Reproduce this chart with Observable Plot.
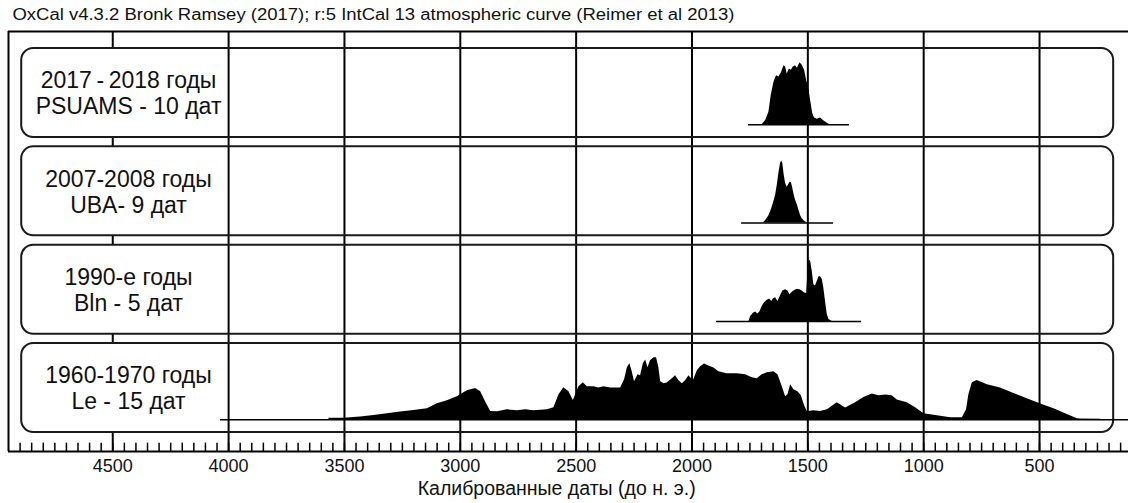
<!DOCTYPE html>
<html><head><meta charset="utf-8">
<script src="https://cdn.jsdelivr.net/npm/d3@7"></script>
<script src="https://cdn.jsdelivr.net/npm/@observablehq/plot@0.6"></script>
<style>body{margin:0;background:#fff}#chart svg{display:block}</style>
</head><body><div id="chart"></div>
<script>
const titleText = "OxCal v4.3.2 Bronk Ramsey (2017); r:5 IntCal 13 atmospheric curve (Reimer et al 2013)";
const axisTitle = "Калиброванные даты (до н. э.)";
const rowLabels = [
  "2017\u2009-\u20092018 годы\nPSUAMS - 10 дат",
  "2007-2008 годы\nUBA- 9 дат",
  "1990-е годы\nBln - 5 дат",
  "1960-1970 годы\nLe - 15 дат"
];
const tickYears = [4500, 4000, 3500, 3000, 2500, 2000, 1500, 1000, 500];
const minorTicks = d3.range(4900, 100, -50);
const baselineStart = [1756, 1786, 1894, 4035];
const baselineEnd = [1320, 1389, 1268, 116];

const psuamsYears = [1697,1682,1668,1658,1646,1635,1625,1614,1603,1596,1589,1580,1571,1563,1553,1545,1534,1524,1514,1505,1497,1488,1479,1471,1459,1445,1433,1419,1405];
const psuamsDensity = [0,.07,.2,.47,.69,.79,.77,.84,.95,.93,.82,.9,.88,.93,.95,.91,1,.96,.88,.71,.61,.39,.18,.11,.09,.11,.07,.03,0];

const ubaYears = [1692,1682,1668,1658,1649,1639,1632,1625,1618,1613,1608,1603,1596,1589,1584,1577,1571,1566,1560,1553,1545,1539,1531,1524,1514,1502];
const ubaDensity = [0,.04,.12,.21,.31,.45,.61,.8,.96,1,.96,.8,.64,.58,.61,.66,.65,.58,.47,.37,.29,.21,.12,.07,.03,0];

const blnYears = [1754,1747,1735,1725,1716,1707,1697,1687,1675,1665,1656,1649,1639,1629,1618,1608,1596,1586,1577,1567,1557,1545,1534,1524,1514,1505,1500,1495,1488,1481,1474,1467,1459,1452,1445,1438,1431,1423,1416,1409,1394];
const blnDensity = [0,.08,.13,.15,.12,.15,.24,.3,.34,.36,.32,.36,.38,.32,.41,.49,.51,.49,.43,.47,.5,.52,.51,.49,.46,.45,.78,.99,.97,.81,.59,.57,.65,.72,.72,.68,.54,.3,.11,.03,0];

const leYears = [3567,3502,3430,3373,3315,3258,3200,3142,3099,3056,
  3013,2970,2934,2912,2891,2869,2840,2797,2754,2718,
  2682,2624,2596,2574,2553,2531,2512,2488,2469,2452,
  2423,2402,2380,2351,2308,2291,2279,2268,2258,2248,
  2233,2222,2210,2200,2190,2179,2164,2153,2143,2135,
  2121,2107,2085,2071,2056,2042,2028,2013,1999,1992,
  1977,1963,1946,1927,1905,1884,1848,1804,1769,1740,
  1718,1697,1675,1646,1629,1618,1606,1596,1586,1574,
  1560,1543,1528,1514,1502,1474,1445,1416,1373,1337,
  1294,1258,1222,1193,1164,1136,1114,1071,1035,999,
  941,884,833,815,805,790,769,725,668,611,
  553,495,438,380,337,323,236,233];
const leDensity = [.024,.024,.044,.069,.097,.124,.15,.177,.258,.306,
  .371,.468,.505,.452,.29,.134,.129,.161,.145,.161,
  .145,.161,.194,.403,.516,.452,.31,.532,.597,.532,
  .532,.511,.532,.511,.511,.645,.839,.903,.774,.613,
  .726,.71,.903,.963,.839,.952,1,1,.839,.613,
  .581,.592,.661,.71,.629,.581,.629,.71,.645,.645,
  .79,.855,.898,.866,.834,.774,.742,.742,.726,.677,
  .661,.726,.758,.774,.726,.613,.484,.371,.403,.565,
  .484,.452,.387,.226,.129,.145,.134,.161,.274,.19,
  .274,.36,.415,.387,.398,.387,.318,.274,.194,.097,
  .065,.032,.032,.161,.403,.597,.634,.565,.511,.424,
  .339,.253,.177,.085,.016,.011,.008,0];

// layout (row units: one unit = one row pitch)
const BOX_H = 0.905, BASE = 0.775, PEAK = 0.63;
const Y_TOP = -0.173, Y_BOTTOM = 4.098;
const X_LEFT = 4950, X_RIGHT = 116;
const boxLeft = 4893, boxRight = 180, labelRight = 4000, labelX = 4432;
const rows = d3.range(rowLabels.length);

const dists = [[psuamsYears, psuamsDensity], [ubaYears, ubaDensity], [blnYears, blnDensity], [leYears, leDensity]];
const areaData = dists.flatMap(([ys, ds], row) => ys.map((yr, k) => ({row, year: yr, base: row + BASE, top: row + BASE - ds[k] * PEAK})));

const font = "'Liberation Sans', Arial, sans-serif";
const chart = Plot.plot({
  width: 1128, height: 503,
  marginLeft: 8, marginRight: 0, marginTop: 31, marginBottom: 52,
  x: {domain: [X_LEFT, X_RIGHT], axis: null},
  y: {domain: [Y_BOTTOM, Y_TOP], axis: null},
  style: {fontFamily: font, background: "white", color: "black"},
  marks: [
    Plot.ruleX([4500], {stroke: "black", strokeWidth: 2}),
    Plot.rect(rows, {x1: () => boxLeft, x2: () => labelRight, y1: i => i, y2: i => i + BOX_H, fill: "white"}),
    Plot.ruleX(tickYears.filter(t => t !== 4500), {stroke: "black", strokeWidth: 2}),
    Plot.rect(rows, {x1: () => boxLeft, x2: () => boxRight, y1: i => i, y2: i => i + BOX_H, fill: "none", stroke: "#1a1a1a", strokeWidth: 2, rx: 12}),
    Plot.areaY(areaData, {x: "year", y1: "base", y2: "top", z: "row", fill: "black", curve: "linear"}),
    Plot.ruleY(rows, {x1: i => baselineStart[i], x2: i => baselineEnd[i], y: i => i + BASE, stroke: "black", strokeWidth: 1.5}),
    Plot.text(rows, {x: () => labelX, y: i => i + BOX_H / 2, text: i => rowLabels[i], fontSize: 23, lineHeight: 1.13, textAnchor: "middle", lineAnchor: "middle", fill: "#111"}),
    Plot.ruleY([Y_TOP, Y_BOTTOM], {stroke: "black", strokeWidth: 2}),
    Plot.ruleX([X_LEFT], {stroke: "black", strokeWidth: 2}),
    Plot.ruleX(minorTicks, {y1: () => Y_BOTTOM, y2: () => Y_BOTTOM - 0.085, stroke: "black", strokeWidth: 1.5}),
    Plot.text(tickYears, {x: d => d, frameAnchor: "bottom", dy: 20, text: d => String(d), fontSize: 18, fill: "#111"}),
    Plot.text([axisTitle], {x: () => 2584, frameAnchor: "bottom", dy: 43, fontSize: 19.5, fill: "#111"}),
    Plot.text([titleText], {frameAnchor: "top-left", dx: 4, dy: -17, fontSize: 16, textAnchor: "start", lineAnchor: "middle", fill: "#111"})
  ]
});
// the reference title is set in a horizontally wide face: stretch it to its measured length
chart.querySelectorAll("text").forEach(t => {
  if (t.textContent === titleText) {
    t.setAttribute("textLength", 722);
    t.setAttribute("lengthAdjust", "spacingAndGlyphs");
  }
});
document.getElementById("chart").appendChild(chart);
</script>
</body></html>
